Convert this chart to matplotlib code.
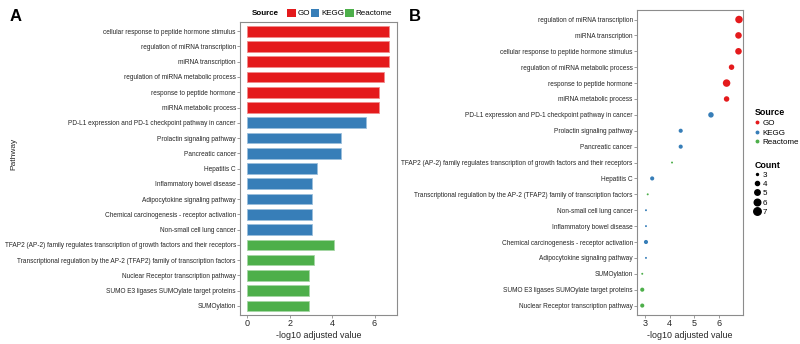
import matplotlib
matplotlib.use("Agg")
import matplotlib.pyplot as plt
from matplotlib.patches import Patch
from matplotlib.lines import Line2D

plt.rcParams['font.family'] = ['Liberation Sans', 'DejaVu Sans']

colors = {"GO": "#E41A1C", "KEGG": "#377EB8", "Reactome": "#4DAF4A"}
edges = {"GO": "#F28B8C", "KEGG": "#9BBFDC", "Reactome": "#A6D7A4"}

# panel A (bar chart), top to bottom
bar_terms = [
    "cellular response to peptide hormone stimulus",
    "regulation of miRNA transcription",
    "miRNA transcription",
    "regulation of miRNA metabolic process",
    "response to peptide hormone",
    "miRNA metabolic process",
    "PD-L1 expression and PD-1 checkpoint pathway in cancer",
    "Prolactin signaling pathway",
    "Pancreatic cancer",
    "Hepatitis C",
    "Inflammatory bowel disease",
    "Adipocytokine signaling pathway",
    "Chemical carcinogenesis - receptor activation",
    "Non-small cell lung cancer",
    "TFAP2 (AP-2) family regulates transcription of growth factors and their receptors",
    "Transcriptional regulation by the AP-2 (TFAP2) family of transcription factors",
    "Nuclear Receptor transcription pathway",
    "SUMO E3 ligases SUMOylate target proteins",
    "SUMOylation",
]
bar_values = [6.7, 6.7, 6.7, 6.45, 6.22, 6.22, 5.6, 4.4, 4.4, 3.3, 3.05, 3.05, 3.05, 3.05,
              4.08, 3.12, 2.9, 2.9, 2.9]
bar_source = ["GO"] * 6 + ["KEGG"] * 8 + ["Reactome"] * 5

# panel B (dot plot), top to bottom
dot_terms = [
    "regulation of miRNA transcription",
    "miRNA transcription",
    "cellular response to peptide hormone stimulus",
    "regulation of miRNA metabolic process",
    "response to peptide hormone",
    "miRNA metabolic process",
    "PD-L1 expression and PD-1 checkpoint pathway in cancer",
    "Prolactin signaling pathway",
    "Pancreatic cancer",
    "TFAP2 (AP-2) family regulates transcription of growth factors and their receptors",
    "Hepatitis C",
    "Transcriptional regulation by the AP-2 (TFAP2) family of transcription factors",
    "Non-small cell lung cancer",
    "Inflammatory bowel disease",
    "Chemical carcinogenesis - receptor activation",
    "Adipocytokine signaling pathway",
    "SUMOylation",
    "SUMO E3 ligases SUMOylate target proteins",
    "Nuclear Receptor transcription pathway",
]
dot_values = [6.8, 6.78, 6.78, 6.5, 6.3, 6.3, 5.67, 4.45, 4.45, 4.1, 3.3, 3.12, 3.05, 3.05,
              3.05, 3.05, 2.9, 2.9, 2.9]
dot_count = [7, 6, 6, 5, 7, 5, 5, 4, 4, 3, 4, 3, 3, 3, 4, 3, 3, 4, 4]
dot_source = ["GO"] * 6 + ["KEGG"] * 3 + ["Reactome", "KEGG", "Reactome", "KEGG", "KEGG",
                                          "KEGG", "KEGG", "Reactome", "Reactome", "Reactome"]


def msize(c):
    return 2.0 + (c - 3) * 6.8


fig = plt.figure(figsize=(8, 3.44), dpi=100)
axA = fig.add_axes([0.300, 0.084, 0.196, 0.852])
axB = fig.add_axes([0.796, 0.084, 0.133, 0.887])

spine_c = "#8C8C8C"
txt_c = "#262626"

for ax in (axA, axB):
    for s in ax.spines.values():
        s.set_color(spine_c)
        s.set_linewidth(0.8)
    ax.tick_params(axis="both", color=spine_c, length=2, width=0.6, pad=1)
    ax.tick_params(axis="y", labelsize=4.72, labelcolor=txt_c)
    ax.tick_params(axis="x", labelsize=6.5, labelcolor=txt_c)

# panel A
ya = list(range(len(bar_terms)))
axA.barh(ya, bar_values, height=0.7, color=[colors[s] for s in bar_source],
         edgecolor=[edges[s] for s in bar_source], linewidth=0.6)
axA.set_yticks(ya)
axA.set_yticklabels(bar_terms)
axA.set_ylim(len(bar_terms) - 0.4, -0.6)
axA.set_xlim(-0.35, 7.05)
axA.set_xticks([0, 2, 4, 6])
axA.set_xlabel("-log10 adjusted value", fontsize=6.4, labelpad=2, color=txt_c)
axA.set_ylabel("Pathway", fontsize=6, color=txt_c)
axA.yaxis.set_label_coords(-1.42, 0.55)

# panel B
yb = list(range(len(dot_terms)))
axB.scatter(dot_values, yb, s=[msize(c) for c in dot_count],
            c=[colors[s] for s in dot_source], linewidths=0, zorder=3)
axB.set_yticks(yb)
axB.set_yticklabels(dot_terms)
axB.set_ylim(len(dot_terms) - 0.4, -0.6)
axB.set_xlim(2.68, 6.97)
axB.set_xticks([3, 4, 5, 6])
axB.set_xlabel("-log10 adjusted value", fontsize=6.4, labelpad=2, color=txt_c)

fig.text(0.012, 0.975, "A", fontsize=12, fontweight="bold", va="top")
fig.text(0.511, 0.975, "B", fontsize=12, fontweight="bold", va="top")

# legend A (horizontal)
fig.text(0.315, 0.962, "Source", fontsize=5.8, fontweight="bold", va="center")
handlesA = [Patch(facecolor=colors[k], edgecolor="none") for k in colors]
fig.legend(handlesA, list(colors), loc="center left", bbox_to_anchor=(0.354, 0.962),
           ncol=3, frameon=False, fontsize=5.8, handlelength=1.05, handleheight=1.1,
           handletextpad=0.2, columnspacing=0.15, borderpad=0)

# legend B
handlesB = [Line2D([], [], marker="o", linestyle="", color=colors[k], markersize=1.8)
            for k in colors]
legB = fig.legend(handlesB, list(colors), title="Source", loc="upper left",
                  bbox_to_anchor=(0.938, 0.697), frameon=False, fontsize=5.8,
                  title_fontsize=6.4, handlelength=0.6, handletextpad=0.4, labelspacing=0.25,
                  borderpad=0, alignment="left")
legB.get_title().set_fontweight("bold")

counts = [3, 4, 5, 6, 7]
handlesC = [Line2D([], [], marker="o", linestyle="", color="black",
                   markersize=msize(c) ** 0.5) for c in counts]
legC = fig.legend(handlesC, [str(c) for c in counts], title="Count", loc="upper left",
                  bbox_to_anchor=(0.938, 0.545), frameon=False, fontsize=5.8,
                  title_fontsize=6.4, handlelength=0.6, handletextpad=0.4, labelspacing=0.2,
                  borderpad=0, alignment="left")
legC.get_title().set_fontweight("bold")

fig.savefig("out.png", dpi=100)
